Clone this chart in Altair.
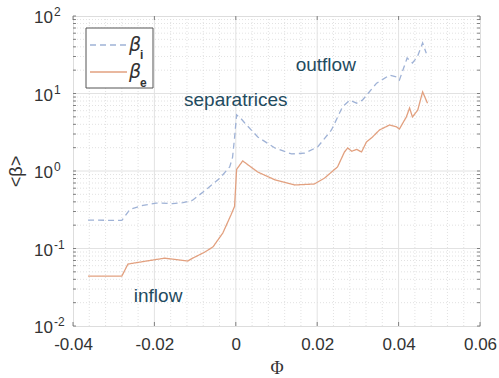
import altair as alt
import pandas as pd

# --- series -----------------------------------------------------------------
phi_i = [-0.0363, -0.028, -0.026, -0.0228, -0.0196, -0.0155, -0.013, -0.0106,
         -0.0074, -0.0039, -0.0015, -0.0008, -0.0003, 0.0002, 0.0012, 0.0022,
         0.0054, 0.0096, 0.0137, 0.0169, 0.0201, 0.0235, 0.0262, 0.0280,
         0.0297, 0.0311, 0.0346, 0.0378, 0.0395, 0.0402, 0.0421, 0.0434,
         0.0446, 0.0459, 0.0468]
beta_i = [0.233, 0.23, 0.32, 0.36, 0.386, 0.38, 0.39, 0.42,
          0.57, 0.81, 1.13, 1.5, 2.7, 5.3, 4.8, 4.16,
          2.75, 1.98, 1.66, 1.70, 2.04, 3.38, 6.7, 8.2,
          7.5, 8.2, 13.6, 17.3, 16.3, 14.9, 28.7, 24.8,
          29.6, 44.9, 33.0]

phi_e = [-0.0363, -0.028, -0.0265, -0.0204, -0.0175, -0.0118, -0.0106,
         -0.0076, -0.0056, -0.0032, -0.0012, -0.0003, 0.0002, 0.0017, 0.0030,
         0.0054, 0.0096, 0.0144, 0.0193, 0.0218, 0.0250, 0.0267, 0.0275,
         0.0285, 0.0297, 0.0309, 0.0321, 0.0336, 0.0353, 0.0378, 0.0395,
         0.0402, 0.0419, 0.0427, 0.0434, 0.0447, 0.0459, 0.0471]
beta_e = [0.044, 0.044, 0.063, 0.071, 0.075, 0.069, 0.075,
          0.090, 0.105, 0.158, 0.27, 0.35, 1.05, 1.35, 1.2,
          0.97, 0.77, 0.66, 0.68, 0.81, 1.13, 1.76, 1.98,
          1.8, 1.9, 1.76, 2.37, 2.75, 3.38, 3.93, 3.7,
          3.48, 4.98, 6.5, 4.98, 6.1, 10.5, 7.5]

# --- axes / grid --------------------------------------------------------------
x_major = [-0.04, -0.02, 0.0, 0.02, 0.04, 0.06]
x_minor = [-0.036, -0.032, -0.028, -0.024, -0.016, -0.012, -0.008, -0.004,
           0.004, 0.008, 0.012, 0.016, 0.024, 0.028, 0.032, 0.036,
           0.044, 0.048, 0.052, 0.056]
y_exponents = [-2, -1, 0, 1, 2]
y_major = [10.0 ** e for e in y_exponents]
y_minor = [m * 10.0 ** e for e in [-2, -1, 0, 1] for m in range(2, 10)]

annotations = ["outflow", "separatrices", "inflow"]
annot_phi = [0.0221, 0.0, -0.0191]
annot_beta = [23.3, 8.2, 0.0244]

W, H = 407, 310
BLUE = "#9fb2d6"
ORANGE = "#e2a07f"
TEAL = "#1f4b60"
FONT = "Liberation Sans"

xs = alt.Scale(domain=[-0.04, 0.06], nice=False, zero=False)
ys = alt.Scale(type="log", domain=[0.01, 100], nice=False)

series = pd.concat([
    pd.DataFrame({"phi": phi_i, "beta": beta_i, "s": "i"}),
    pd.DataFrame({"phi": phi_e, "beta": beta_e, "s": "e"}),
])

xg_minor = pd.DataFrame({"v": x_minor})
xg_major = pd.DataFrame({"v": x_major[1:-1]})
yg_minor = pd.DataFrame({"v": y_minor})
yg_major = pd.DataFrame({"v": y_major[1:-1]})

base_x = alt.X("phi:Q", scale=xs, axis=alt.Axis(
    values=x_major, grid=False, ticks=False, domain=False, labelFlush=False,
    labelExpr="datum.value == 0 ? '0' : (datum.value < 0 ? '-' : '') + format(abs(datum.value), '.2f')",
    labelFont=FONT, labelFontSize=17, labelColor="#333", labelPadding=10,
    title="Φ", titleFont="Liberation Serif", titleFontSize=18,
    titleFontWeight="normal", titleColor="#333", titlePadding=7))

base_y = alt.Y("beta:Q", scale=ys, axis=alt.Axis(
    values=y_major, grid=False, ticks=False, domain=False, labels=False,
    title="<β>", titleFont=FONT, titleFontSize=18, titleFontWeight="normal",
    titleColor="#333", titleX=-48, titleY=H / 2, titleAngle=-90))

grid_minor_x = alt.Chart(xg_minor).mark_rule(
    color="#dadada", strokeDash=[1, 2], strokeWidth=0.8
).encode(x=alt.X("v:Q", scale=xs))
grid_minor_y = alt.Chart(yg_minor).mark_rule(
    color="#dadada", strokeDash=[1, 2], strokeWidth=0.8
).encode(y=alt.Y("v:Q", scale=ys))
grid_major_x = alt.Chart(xg_major).mark_rule(
    color="#e2e2e2", strokeWidth=1
).encode(x=alt.X("v:Q", scale=xs))
grid_major_y = alt.Chart(yg_major).mark_rule(
    color="#e2e2e2", strokeWidth=1
).encode(y=alt.Y("v:Q", scale=ys))

lines = alt.Chart(series).mark_line(strokeWidth=1.3).encode(
    x=base_x,
    y=base_y,
    color=alt.Color("s:N", scale=alt.Scale(domain=["i", "e"], range=[BLUE, ORANGE]), legend=None),
    strokeDash=alt.StrokeDash("s:N", scale=alt.Scale(domain=["i", "e"], range=[[6, 4], [1, 0]]), legend=None),
    detail="s:N",
)

# inward ticks on all four sides
tick_color = "#666"
yt_all = pd.DataFrame({"v": y_minor + y_major})
ticks_y_left = alt.Chart(yt_all).mark_rule(color=tick_color, strokeWidth=0.8).encode(
    y=alt.Y("v:Q", scale=ys), x=alt.value(0), x2=alt.value(3))
ticks_y_right = alt.Chart(yt_all).mark_rule(color=tick_color, strokeWidth=0.8).encode(
    y=alt.Y("v:Q", scale=ys), x=alt.value(W - 3), x2=alt.value(W))
xt = pd.DataFrame({"v": x_major})
ticks_x_bottom = alt.Chart(xt).mark_rule(color=tick_color, strokeWidth=0.8).encode(
    x=alt.X("v:Q", scale=xs), y=alt.value(H - 4), y2=alt.value(H))
ticks_x_top = alt.Chart(xt).mark_rule(color=tick_color, strokeWidth=0.8).encode(
    x=alt.X("v:Q", scale=xs), y=alt.value(0), y2=alt.value(4))

# y tick labels as 10 with a raised exponent
ylab = pd.DataFrame({"v": y_major, "e": [str(e) for e in y_exponents]})
ylab_base = alt.Chart(ylab).mark_text(
    align="right", baseline="middle", font=FONT, fontSize=17, color="#333", dy=2
).encode(y=alt.Y("v:Q", scale=ys), x=alt.value(-20), text=alt.value("10"))
ylab_exp = alt.Chart(ylab).mark_text(
    align="left", baseline="middle", font=FONT, fontSize=12, color="#333", dy=-4
).encode(y=alt.Y("v:Q", scale=ys), x=alt.value(-19), text="e:N")

annot = alt.Chart(pd.DataFrame({"t": annotations, "phi": annot_phi, "beta": annot_beta})).mark_text(
    font=FONT, fontSize=19, color=TEAL, align="center", baseline="middle"
).encode(x=alt.X("phi:Q", scale=xs), y=alt.Y("beta:Q", scale=ys), text="t:N")

# legend box
legend_box = alt.Chart(pd.DataFrame({"a": [0]})).mark_rect(
    fill="white", stroke="#555", strokeWidth=1
).encode(x=alt.value(13), x2=alt.value(80), y=alt.value(12), y2=alt.value(72))
leg_i = alt.Chart(pd.DataFrame({"a": [0]})).mark_rule(
    color=BLUE, strokeDash=[6, 4], strokeWidth=1.4
).encode(x=alt.value(17), x2=alt.value(54), y=alt.value(29))
leg_e = alt.Chart(pd.DataFrame({"a": [0]})).mark_rule(
    color=ORANGE, strokeWidth=1.4
).encode(x=alt.value(17), x2=alt.value(54), y=alt.value(56))
leg_text = alt.Chart(pd.DataFrame({"t": ["β", "β"], "yy": [29, 56]})).mark_text(
    font="DejaVu Sans", fontStyle="italic", fontSize=19, color="#333", align="left", baseline="middle"
).encode(x=alt.value(56), y=alt.Y("yy:Q", scale=None), text="t:N")
leg_sub = alt.Chart(pd.DataFrame({"t": ["i", "e"], "yy": [39, 67]})).mark_text(
    font=FONT, fontWeight="bold", fontSize=12, color="#333", align="left", baseline="middle"
).encode(x=alt.value(67), y=alt.Y("yy:Q", scale=None), text="t:N")

chart = alt.layer(
    grid_minor_x, grid_minor_y, grid_major_x, grid_major_y,
    lines, ticks_y_left, ticks_y_right, ticks_x_bottom, ticks_x_top,
    ylab_base, ylab_exp, annot,
    legend_box, leg_i, leg_e, leg_text, leg_sub,
).properties(
    width=W, height=H,
    autosize=alt.AutoSizeParams(type="none"),
    padding={"left": 73, "top": 16, "right": 19, "bottom": 52},
).configure_view(
    stroke="#555", strokeWidth=1
).configure(background="white")

chart.save("out.html", embed_options={"renderer": "svg", "actions": False})
